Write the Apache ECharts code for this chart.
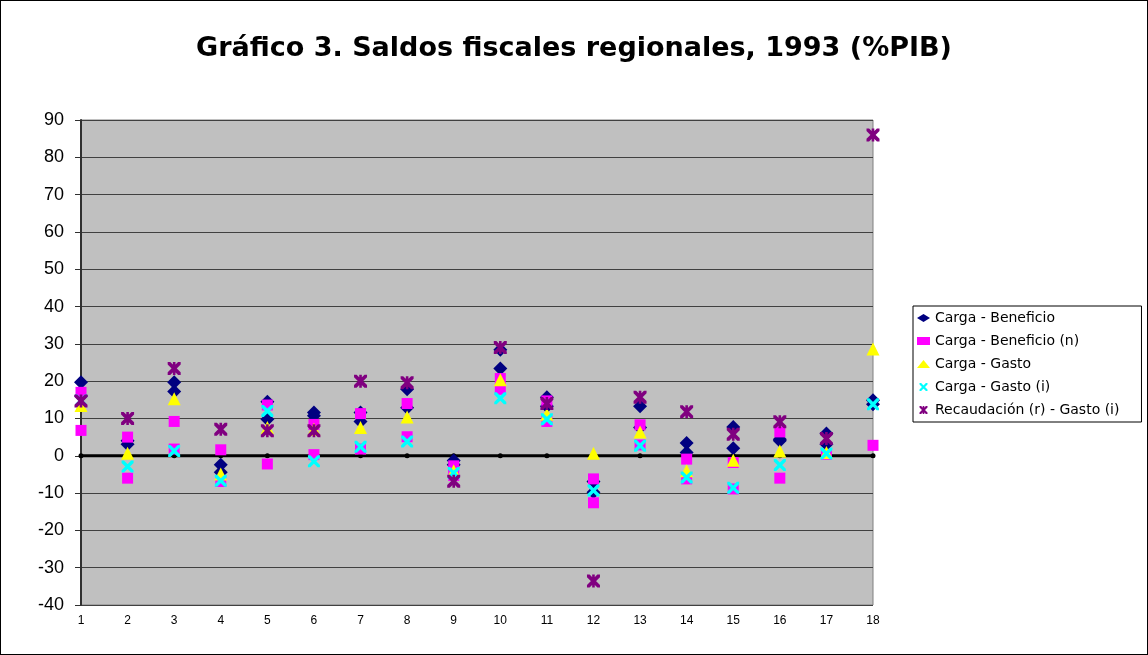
<!DOCTYPE html>
<html>
<head>
<meta charset="utf-8">
<script src="https://cdn.jsdelivr.net/npm/echarts@6/dist/echarts.min.js"></script>
<style>
html,body{margin:0;padding:0;background:#fff;}
#c{width:1148px;height:655px;box-sizing:border-box;border:1px solid #000;}
</style>
</head>
<body>
<div id="c"></div>
<script>
const categories = ['1','2','3','4','5','6','7','8','9','10','11','12','13','14','15','16','17','18'];
const yTicks = { min: -40, max: 90, interval: 10 };

const cargaBeneficioA = [19.7, 4.0, 19.7, -2.4, 14.5, 11.6, 11.6, 17.8, -1.3, 28.4, 15.7, -6.9, 13.3, 3.4, 7.7, 4.4, 6.0, 14.9];
const cargaBeneficioB = [16.0, 3.1, 17.2, -4.4, 9.8, 10.7, 9.2, 12.9, -2.4, 23.4, 13.3, -9.8, 7.6, 0.9, 2.0, 4.0, 3.1, 13.8];
const cargaBeneficioNA = [17.0, 5.0, 9.2, 1.6, 13.6, 8.4, 11.3, 14.0, -2.7, 20.7, 14.7, -6.2, 8.3, -0.9, -1.8, 6.4, 0.4, 2.8];
const cargaBeneficioNB = [6.8, -6.0, 1.8, -6.9, -2.2, 0.3, 1.8, 5.1, -5.3, 17.8, 9.2, -12.6, 2.9, -6.2, -8.9, -6.0, null, null];
const cargaGasto = [13.5, 0.7, 15.3, -4.9, 7.6, 7.1, 7.6, 10.4, -4.0, 20.4, 11.1, 0.7, 6.4, -4.0, -1.2, 1.3, 0.9, 28.6];
const cargaGastoI = [14.8, -2.9, 1.3, -6.7, 12.0, -1.5, 2.4, 3.8, -4.6, 15.4, 9.8, -9.3, 2.7, -5.8, -8.6, -2.5, 0.6, 13.8];
const recaudacionGastoI = [14.7, 10.0, 23.4, 7.1, 6.7, 6.7, 20.0, 19.6, -6.8, 29.0, 14.0, -33.6, 15.7, 11.8, 5.8, 9.1, 4.6, 86.0];
const zeroLine = [0, 0, 0, 0, 0, 0, 0, 0, 0, 0, 0, 0, 0, 0, 0, 0, 0, 0];

const names = ['Carga - Beneficio', 'Carga - Beneficio (n)', 'Carga - Gasto', 'Carga - Gasto (i)', 'Recaudación (r) - Gasto (i)'];

const xPath = 'path://M0,0 L2,0 L10,8 L10,10 L8,10 L0,2 Z M10,0 L10,2 L2,10 L0,10 L0,8 L8,0 Z';
const starPath = 'path://M0,0 L2,0 L10,8 L10,10 L8,10 L0,2 Z M10,0 L10,2 L2,10 L0,10 L0,8 L8,0 Z M4,0 L6,0 L6,10 L4,10 Z';

function sc(name, data, symbol, size, color) {
  return { name, type: 'scatter', data, symbol, symbolSize: size, symbolKeepAspect: true,
    itemStyle: { color, opacity: 1 }, z: 3, animation: false };
}

const chart = echarts.init(document.getElementById('c'));
chart.setOption({
  animation: false,
  title: {
    text: 'Gráfico 3. Saldos fiscales regionales, 1993 (%PIB)',
    left: 'center', top: 29,
    textStyle: { fontFamily: 'DejaVu Sans, sans-serif', fontWeight: 'bold', fontSize: 27, color: '#000' }
  },
  legend: {
    data: names.map(n => ({ name: n })),
    orient: 'vertical',
    left: 912, top: 305,
    padding: [5, 22, 5, 4],
    itemGap: 9,
    itemWidth: 13, itemHeight: 8,
    backgroundColor: '#fff',
    borderColor: '#000', borderWidth: 1,
    textStyle: { fontFamily: 'DejaVu Sans, sans-serif', fontSize: 14, color: '#000' }
  },
  grid: { left: 80, right: 274, top: 119, bottom: 49, show: true, backgroundColor: '#C0C0C0', borderColor: '#808080', borderWidth: 1 },
  xAxis: {
    type: 'category', data: categories, boundaryGap: false,
    axisLine: { show: false },
    axisTick: { show: false },
    splitLine: { show: false },
    axisLabel: { color: '#000', fontSize: 12, fontFamily: 'Liberation Sans, Arial, sans-serif', margin: 10 }
  },
  yAxis: {
    type: 'value', min: yTicks.min, max: yTicks.max, interval: yTicks.interval,
    axisLine: { show: true, onZero: false, lineStyle: { color: '#303030', width: 2 } },
    axisTick: { show: true, length: 6, lineStyle: { color: '#303030' } },
    splitLine: { show: true, lineStyle: { color: '#404040', width: 1 } },
    axisLabel: { color: '#000', fontSize: 18, fontFamily: 'Liberation Sans, Arial, sans-serif', margin: 17 }
  },
  series: [
    { name: 'cero', type: 'line', data: zeroLine, symbol: 'circle', symbolSize: 5, showSymbol: true,
      lineStyle: { color: '#000', width: 3 }, itemStyle: { color: '#000' }, z: 2, silent: true },
    sc(names[0], cargaBeneficioA, 'diamond', 14, '#000080'),
    sc(names[0], cargaBeneficioB, 'diamond', 14, '#000080'),
    sc(names[1], cargaBeneficioNA, 'rect', 11, '#FF00FF'),
    sc(names[1], cargaBeneficioNB, 'rect', 11, '#FF00FF'),
    sc(names[2], cargaGasto, 'triangle', 13, '#FFFF00'),
    sc(names[3], cargaGastoI, xPath, 12, '#00FFFF'),
    sc(names[4], recaudacionGastoI, starPath, 13, '#800080')
  ]
});
</script>
</body>
</html>
